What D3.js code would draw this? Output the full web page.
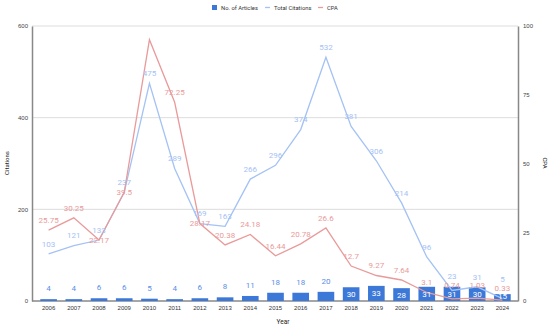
<!DOCTYPE html>
<html><head><meta charset="utf-8">
<script src="https://cdn.jsdelivr.net/npm/d3@7/dist/d3.min.js"></script>
<style>body{margin:0;background:#fff}svg{display:block;font-family:Roboto,Arial,sans-serif}</style>
</head><body><svg id="c" width="550" height="329"></svg>
<script>
const years = ["2006","2007","2008","2009","2010","2011","2012","2013","2014","2015","2016","2017","2018","2019","2020","2021","2022","2023","2024"];
const articles = [4,4,6,6,5,4,6,8,11,18,18,20,30,33,28,31,31,30,15];
const citations = [103,121,133,237,475,289,169,163,266,296,374,532,381,306,214,96,23,31,5];
const cpa = [25.75,30.25,22.17,39.5,95,72.25,28.17,20.38,24.18,16.44,20.78,26.6,12.7,9.27,7.64,3.1,0.74,1.03,0.33];
const leftTicks = [0,200,400,600];
const rightTicks = [0,25,50,75,100];

const svg = d3.select("#c");
const L = 32, R = 518, T = 26, B = 301;
const x = d3.scaleBand().domain(years).range([36, 515]).paddingInner(0.34).paddingOuter(0.17);
const yL = d3.scaleLinear().domain([0,600]).range([B,T]);
const yR = d3.scaleLinear().domain([0,100]).range([B,T]);
const cx = d => x(d) + x.bandwidth()/2;

const barC = "#3c78d8", citC = "#a4c2f4", cpaC = "#e99a9a";
const barLabC = "#5b8ee6";
const FS = 8, GAP = 8.6;

// gridlines
svg.append("g").selectAll("line").data(leftTicks.filter(t=>t>0)).join("line")
  .attr("x1",L).attr("x2",R).attr("y1",d=>yL(d)).attr("y2",d=>yL(d))
  .attr("stroke","#dddddd").attr("stroke-width",1);

// axes
const ga = svg.append("g").attr("transform",`translate(${L},0)`)
  .call(d3.axisLeft(yL).tickValues(leftTicks).tickSize(0).tickPadding(4));
ga.select(".domain").attr("stroke","#888").attr("stroke-width",1.5);
ga.selectAll("text").attr("font-size",6).attr("fill","#444");
const gr = svg.append("g").attr("transform",`translate(${R},0)`)
  .call(d3.axisRight(yR).tickValues(rightTicks).tickSize(0).tickPadding(5));
gr.select(".domain").attr("stroke","#888").attr("stroke-width",1.5);
gr.selectAll("text").attr("font-size",6).attr("fill","#444");
const gx = svg.append("g").attr("transform",`translate(0,${B})`)
  .call(d3.axisBottom(x).tickSize(0).tickPadding(5));
gx.select(".domain").attr("d",`M${L},0H${R}`).attr("stroke","#888").attr("stroke-width",1.5);
gx.selectAll("text").attr("font-size",6).attr("fill","#333");

// bars
svg.append("g").selectAll("rect").data(years).join("rect")
  .attr("x",d=>x(d)).attr("width",x.bandwidth())
  .attr("y",(d,i)=>yL(articles[i])).attr("height",(d,i)=>B-yL(articles[i]))
  .attr("fill",barC);

// lines
const line = (arr, ys) => d3.line().x((d,i)=>cx(years[i])).y(d=>ys(d))(arr);
svg.append("path").attr("d",line(citations,yL)).attr("fill","none").attr("stroke",citC).attr("stroke-width",1.3);
svg.append("path").attr("d",line(cpa,yR)).attr("fill","none").attr("stroke",cpaC).attr("stroke-width",1.3);

// bar label placement
const inside = articles.map((a,i) => a >= 28 || (yL(articles[i]) - yL(citations[i])) < 25);
const barLab = articles.map((a,i) => inside[i] ? Math.min(yL(a) + 7, B - 4.5) : yL(a) - 11);

// line label placement (centers), simple collision avoidance
const citLab = citations.map(v => yL(v) - 10);
const cpaLab = cpa.map((v,i) => {
  const p = yR(v);
  let above = p - 10;
  if (inside[i]) above = Math.min(above, barLab[i] - GAP);
  if (Math.abs(above - citLab[i]) >= GAP) return above;
  if (p < B - 15 && Math.abs(p - citLab[i]) >= GAP) return p;
  citLab[i] = above - GAP;
  return above;
});

// bar labels
svg.append("g").selectAll("text").data(years).join("text")
  .attr("x",d=>cx(d)).attr("y",(d,i)=>barLab[i]).attr("dy","0.35em")
  .attr("text-anchor","middle").attr("font-size",FS)
  .attr("fill",(d,i)=>inside[i] ? "#ffffff" : barLabC)
  .text((d,i)=>articles[i]);

// citation labels
svg.append("g").selectAll("text").data(years).join("text")
  .attr("x",d=>cx(d)).attr("y",(d,i)=>citLab[i]).attr("dy","0.35em")
  .attr("text-anchor","middle").attr("font-size",FS).attr("fill",citC)
  .text((d,i)=>citations[i]);

// cpa labels (labels that would cross the top of the plot are dropped)
svg.append("g").selectAll("text").data(years.filter((d,i)=>cpaLab[i] > T + 6)).join("text")
  .attr("x",d=>cx(d)).attr("y",d=>cpaLab[years.indexOf(d)]).attr("dy","0.35em")
  .attr("text-anchor","middle").attr("font-size",FS).attr("fill",cpaC)
  .text(d=>cpa[years.indexOf(d)]);

// axis titles
svg.append("text").attr("transform","translate(9,163) rotate(-90)")
  .attr("text-anchor","middle").attr("font-size",6).attr("fill","#222").text("Citations");
svg.append("text").attr("transform","translate(543,163) rotate(90)")
  .attr("text-anchor","middle").attr("font-size",6).attr("fill","#222").text("CPA");
svg.append("text").attr("x",283).attr("y",324)
  .attr("text-anchor","middle").attr("font-size",6.5).attr("fill","#222").text("Year");

// legend
const lg = svg.append("g").attr("font-size",5.8).attr("fill","#333");
lg.append("rect").attr("x",212).attr("y",5).attr("width",5).attr("height",5).attr("fill",barC);
lg.append("text").attr("x",221).attr("y",9.8).text("No. of Articles");
lg.append("line").attr("x1",265).attr("x2",270).attr("y1",7.5).attr("y2",7.5).attr("stroke",citC).attr("stroke-width",1.3);
lg.append("text").attr("x",274).attr("y",9.8).text("Total Citations");
lg.append("line").attr("x1",318).attr("x2",323).attr("y1",7.5).attr("y2",7.5).attr("stroke",cpaC).attr("stroke-width",1.3);
lg.append("text").attr("x",327).attr("y",9.8).text("CPA");
</script></body></html>
